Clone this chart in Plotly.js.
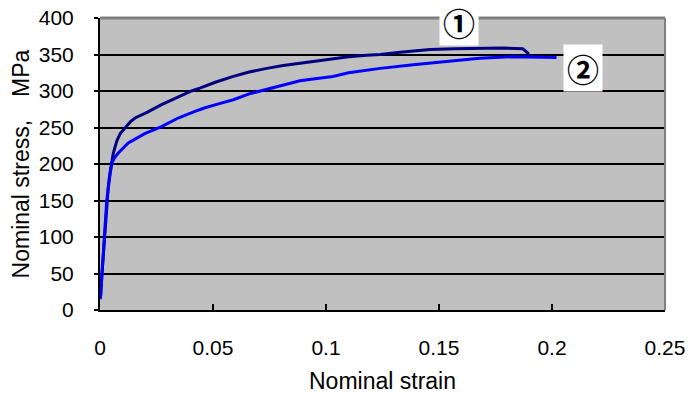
<!DOCTYPE html>
<html><head><meta charset="utf-8">
<script src="https://cdn.plot.ly/plotly-3.0.1.min.js"></script>
<style>html,body{margin:0;padding:0;background:#fff;}#chart{width:690px;height:394px;}</style>
</head><body><div id="chart"></div>
<script>
// Series 1 (dark navy) - nominal strain / nominal stress (MPa)
var strain1 = [0, 0.0003, 0.0008, 0.0015, 0.0022, 0.0027, 0.003, 0.0037, 0.0044, 0.0059, 0.0075, 0.009, 0.011, 0.0135, 0.0155, 0.021, 0.027, 0.0345, 0.0405, 0.0442, 0.051, 0.059, 0.066, 0.0738, 0.081, 0.0885, 0.096, 0.103, 0.11, 0.118, 0.124, 0.1327, 0.14, 0.146, 0.157, 0.168, 0.178, 0.187, 0.1893, 0.1895];
var stress1 = [15, 20, 46, 78, 100, 125, 151, 170, 187, 215, 232, 242, 249, 258, 263, 271, 281, 292, 300, 304, 312, 320, 326, 331, 335, 338, 341, 344, 347, 349, 350, 353, 355, 357, 358, 359, 359, 358, 352, 345];
// Series 2 (blue)
var strain2 = [0, 0.0003, 0.0008, 0.0015, 0.0022, 0.003, 0.0044, 0.0052, 0.0065, 0.0081, 0.0125, 0.02, 0.027, 0.0346, 0.042, 0.0465, 0.052, 0.059, 0.066, 0.0738, 0.081, 0.0885, 0.096, 0.103, 0.11, 0.118, 0.124, 0.1386, 0.153, 0.168, 0.183, 0.19, 0.202];
var stress2 = [15, 20, 46, 78, 100, 151, 185, 201, 209, 215, 229, 242, 251, 263, 272, 277, 282, 288, 296, 302, 308, 314, 317, 320, 325, 329, 331, 336, 340, 345, 347, 347, 346];
var seriesLabels = ['①', '②'];
var xTitle = 'Nominal strain';
var yTitle = 'Nominal stress,\u3000MPa';

var tickFont = {family: 'Liberation Sans, Arial, sans-serif', size: 21, color: '#000'};
var titleFont = {family: 'Liberation Sans, Arial, sans-serif', size: 23, color: '#000'};
var labelFont = {family: 'Noto Sans CJK JP', size: 32, color: '#000', weight: 'bold'};
var traces = [
  {x: strain1, y: stress1, mode: 'lines', line: {color: '#000080', width: 3}, hoverinfo: 'none'},
  {x: strain2, y: stress2, mode: 'lines', line: {color: '#0000ff', width: 3}, hoverinfo: 'none'}
];
var layout = {
  width: 690, height: 394,
  margin: {l: 100, r: 25, t: 18, b: 84},
  paper_bgcolor: '#ffffff', plot_bgcolor: '#c0c0c0',
  showlegend: false,
  xaxis: {
    range: [0, 0.25], dtick: 0.05, tick0: 0, showgrid: false, zeroline: false,
    showline: true, linecolor: '#000', linewidth: 2,
    ticks: 'inside', ticklen: 6, tickcolor: '#000', tickwidth: 2,
    tickfont: tickFont, ticklabelstandoff: 18, automargin: false,
    title: {text: xTitle, font: titleFont, standoff: 16}
  },
  yaxis: {
    range: [0, 400], dtick: 50, showgrid: true, gridcolor: '#000', gridwidth: 2, zeroline: false,
    showline: true, linecolor: '#000', linewidth: 2,
    ticks: 'outside', ticklen: 4, tickcolor: '#000', tickwidth: 2,
    tickfont: tickFont, ticklabelstandoff: 16, automargin: false,
    title: {text: yTitle, font: titleFont, standoff: 3}
  },
  shapes: [
    {type: 'line', xref: 'paper', yref: 'paper', x0: 0, x1: 1, y0: 1, y1: 1, line: {color: '#808080', width: 3}},
    {type: 'line', xref: 'paper', yref: 'paper', x0: 1, x1: 1, y0: 0, y1: 1, line: {color: '#808080', width: 2}}
  ],
  annotations: [
    {text: seriesLabels[0], xref: 'paper', yref: 'paper', x: 0.635, y: 0.986, xanchor: 'center', yanchor: 'middle',
     showarrow: false, bgcolor: '#ffffff', font: labelFont, borderpad: 0, width: 38},
    {text: seriesLabels[1], xref: 'paper', yref: 'paper', x: 0.855, y: 0.829, xanchor: 'center', yanchor: 'middle',
     showarrow: false, bgcolor: '#ffffff', font: labelFont, borderpad: 0, width: 38}
  ]
};
Plotly.newPlot('chart', traces, layout, {staticPlot: true, displayModeBar: false});
</script></body></html>
